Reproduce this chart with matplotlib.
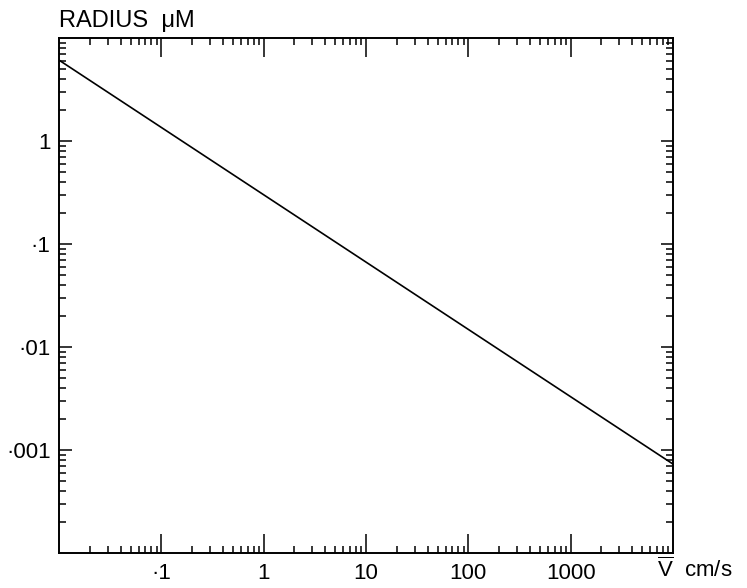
import numpy as np
import matplotlib
matplotlib.use("Agg")
import matplotlib.pyplot as plt
from matplotlib.ticker import FixedLocator, LogLocator, NullFormatter

plt.rcParams['font.family'] = ['Liberation Sans', 'DejaVu Sans']
plt.rcParams['mathtext.fontset'] = 'custom'
plt.rcParams['mathtext.rm'] = 'Liberation Sans'

# values
velocity = [0.01, 10000]          # cm/s
radius = [6.1, 0.00073]           # micrometre

x_ticks = [0.1, 1, 10, 100, 1000]
x_labels = ["\u00b71", "1", "10", "100", "1000"]
y_ticks = [1, 0.1, 0.01, 0.001]
y_labels = ["1", "\u00b71", "\u00b701", "\u00b7001"]

fig = plt.figure(figsize=(7.47, 5.88), dpi=100)
ax = fig.add_axes([59/747, 1 - 553/588, (673 - 59)/747, (553 - 38)/588])

ax.plot(velocity, radius, color="black", lw=1.2)
ax.set_xscale("log")
ax.set_yscale("log")
ax.set_xlim(0.01, 10000)
ax.set_ylim(0.0001, 10)

ax.xaxis.set_major_locator(FixedLocator(x_ticks))
ax.set_xticklabels(x_labels)
ax.yaxis.set_major_locator(FixedLocator(y_ticks))
ax.set_yticklabels(y_labels)
ax.xaxis.set_minor_locator(LogLocator(base=10, subs=np.arange(2, 10)))
ax.yaxis.set_minor_locator(LogLocator(base=10, subs=np.arange(2, 10)))
ax.xaxis.set_minor_formatter(NullFormatter())
ax.yaxis.set_minor_formatter(NullFormatter())

ax.tick_params(axis="both", which="both", direction="in", top=True, right=True,
               labelsize=16, color="black", width=1.1)
ax.tick_params(axis="x", which="major", length=14, pad=7)
ax.tick_params(axis="y", which="major", length=9, pad=6)
ax.tick_params(axis="both", which="minor", length=5)
for s in ax.spines.values():
    s.set_linewidth(1.4)

fig.text(59/747, 1 - 27/588, "RADIUS  \u03bcM", fontsize=17, va="baseline", ha="left")
fig.text(657/747, 1 - 577/588, r"$\overline{\mathrm{V}}$  cm/s", fontsize=16,
         va="baseline", ha="left")

fig.savefig("out.png", dpi=100)
